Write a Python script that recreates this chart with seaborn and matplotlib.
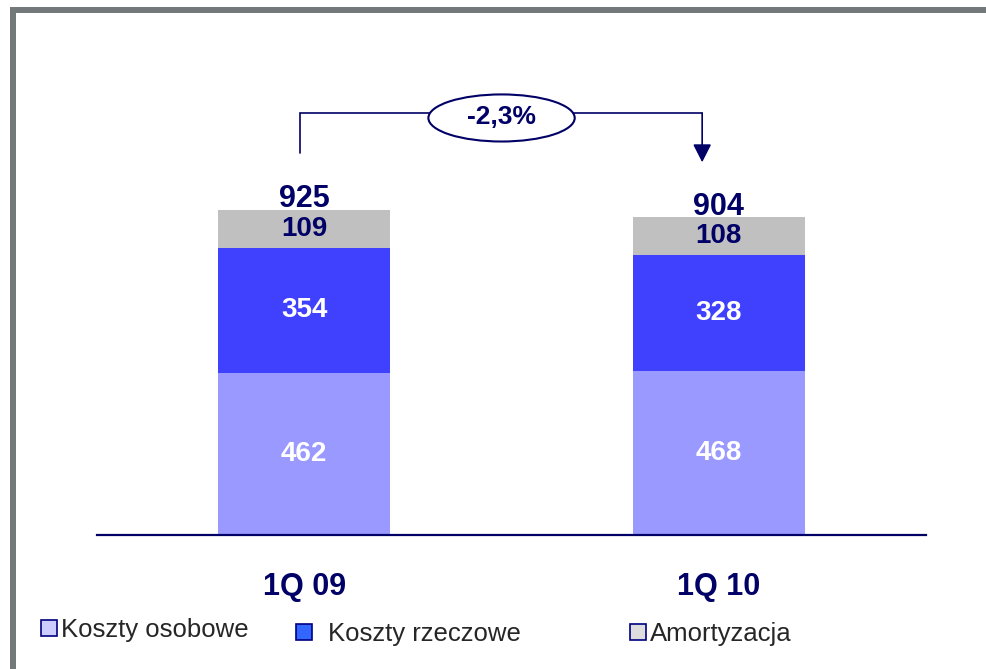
import matplotlib
matplotlib.use("Agg")
import matplotlib.pyplot as plt
from matplotlib.patches import Ellipse, Rectangle, Patch
import seaborn as sns
import pandas as pd

# data
periods = ["1Q 09", "1Q 10"]
osobowe = [462, 468]
rzeczowe = [354, 328]
amortyzacja = [109, 108]
change_label = "-2,3%"
legend_labels = ["Koszty osobowe", "Koszty rzeczowe", "Amortyzacja"]

NAVY = "#000066"
bar_colors = ["#9999FF", "#4040FF", "#C0C0C0"]
legend_colors = ["#CCCCFF", "#3366FF", "#DDDDDD"]

df = pd.DataFrame({"period": periods, "osobowe": osobowe,
                   "rzeczowe": rzeczowe, "amortyzacja": amortyzacja})
df["lvl2"] = df["osobowe"] + df["rzeczowe"]
df["total"] = df["lvl2"] + df["amortyzacja"]

sns.set_theme(style="white")
plt.rcParams["font.family"] = ["Liberation Sans", "DejaVu Sans"]

W, H = 987, 669
fig = plt.figure(figsize=(W / 100, H / 100), dpi=100)
ax = fig.add_axes([97 / W, 1 - 535 / H, (926 - 97) / W, (535 - 60) / H])

# stacked bars, drawn top layer first
bw = 0.415
sns.barplot(data=df, x="period", y="total", color=bar_colors[2], width=bw,
            saturation=1, linewidth=0, ax=ax)
sns.barplot(data=df, x="period", y="lvl2", color=bar_colors[1], width=bw,
            saturation=1, linewidth=0, ax=ax)
sns.barplot(data=df, x="period", y="osobowe", color=bar_colors[0], width=bw,
            saturation=1, linewidth=0, ax=ax)

ax.set_xlim(-0.5, 1.5)
ax.set_ylim(0, 1352)
ax.set_xlabel("")
ax.set_ylabel("")
ax.set_yticks([])
for s in ["top", "left", "right"]:
    ax.spines[s].set_visible(False)
ax.spines["bottom"].set_color(NAVY)
ax.spines["bottom"].set_linewidth(1.6)
ax.tick_params(axis="x", length=0, pad=27)
for lab in ax.get_xticklabels():
    lab.set_fontsize(22)
    lab.set_fontweight("bold")
    lab.set_color(NAVY)

# value labels
for i, row in df.iterrows():
    ax.text(i, row["osobowe"] / 2, str(row["osobowe"]), ha="center", va="center",
            color="white", fontsize=20, fontweight="bold")
    ax.text(i, row["osobowe"] + row["rzeczowe"] / 2, str(row["rzeczowe"]),
            ha="center", va="center", color="white", fontsize=20, fontweight="bold")
    ax.text(i, row["lvl2"] + row["amortyzacja"] / 2, str(row["amortyzacja"]),
            ha="center", va="center", color=NAVY, fontsize=20, fontweight="bold")
    ax.text(i, row["total"] + 30, str(row["total"]), ha="center", va="center",
            color=NAVY, fontsize=22, fontweight="bold")

# change arrow with ellipse
y_top = 1201
ax.plot([-0.01, -0.01, 0.96], [1087, y_top, y_top], color=NAVY, lw=1.2,
        solid_joinstyle="miter")
ax.annotate("", xy=(0.96, 1061), xytext=(0.96, y_top),
            arrowprops=dict(arrowstyle="-|>,head_length=0.55,head_width=0.28",
                            mutation_scale=20, color=NAVY, lw=1.2,
                            shrinkA=0, shrinkB=0))
ax.add_patch(Ellipse((0.476, 1187), 0.353, 134, facecolor="white",
                     edgecolor=NAVY, lw=1.5, zorder=5))
ax.text(0.476, 1189, change_label, ha="center", va="center", color=NAVY,
        fontsize=19, fontweight="bold", zorder=6)

# grey frame
fig.patches.append(Rectangle((10 / W, 0), 6 / W, 1 - 7 / H, transform=fig.transFigure,
                             facecolor="#73787B", edgecolor="none"))
fig.patches.append(Rectangle((10 / W, 1 - 13 / H), 1, 6 / H, transform=fig.transFigure,
                             facecolor="#73787B", edgecolor="none"))

# legend entries, spaced like the original
leg_pos = [(41, 630), (296, 634), (630, 634)]
for lbl, col, (px, py) in zip(legend_labels, legend_colors, leg_pos):
    h = Patch(facecolor=col, edgecolor="#000080", linewidth=1.2)
    leg = fig.legend(handles=[h], labels=[lbl], loc="center left",
                     bbox_to_anchor=(px / W, 1 - py / H), frameon=False,
                     fontsize=18.5, handlelength=0.63, handleheight=0.63,
                     handletextpad=0.15 if lbl != "Koszty rzeczowe" else 0.6,
                     borderpad=0, borderaxespad=0)

fig.savefig("out.png", dpi=100)
plt.close(fig)
